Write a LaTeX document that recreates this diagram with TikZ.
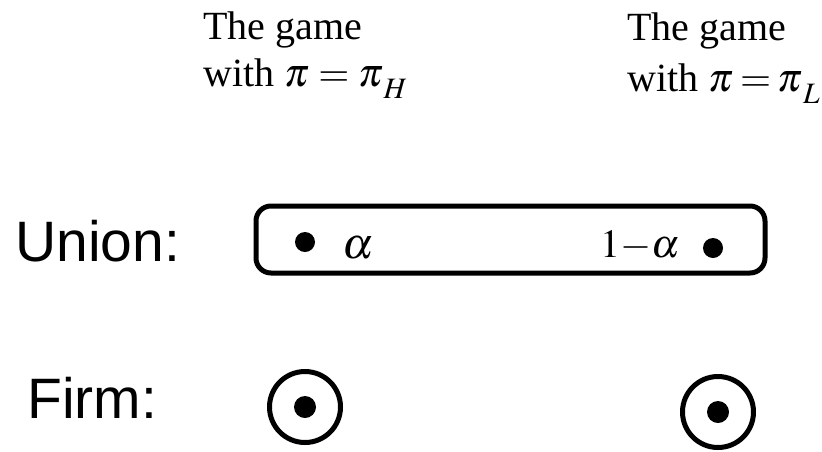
\documentclass[tikz,border=0pt]{standalone}
\usepackage{mathptmx}
\usepackage{fontspec}
\setmainfont{Liberation Serif}
\setsansfont{Liberation Sans}
\usepackage{tikz}
\usetikzlibrary{positioning}

\begin{document}
\begin{tikzpicture}[
    x=1pt, y=-1pt,
    heading/.style={
      anchor=north west,
      align=left,
      inner sep=0pt,
      font=\fontsize{40}{47}\selectfont
    },
    player/.style={
      anchor=base west,
      inner sep=0pt,
      font=\sffamily\fontsize{57}{60}\selectfont
    },
    prob/.style={
      inner sep=0pt,
      font=\fontsize{44}{50}\selectfont
    },
    infoset/.style={
      draw,
      line width=5pt,
      rounded corners=15pt
    },
    choice/.style={
      circle,
      fill,
      inner sep=0pt,
      minimum size=20pt
    },
    firmset/.style={
      circle,
      draw,
      line width=5pt,
      inner sep=0pt,
      minimum size=71pt
    }
  ]
    \useasboundingbox (0,0) rectangle (822,451);

    % Headings
    \node (gameH) [heading] at (203,12) {The game\\with $\pi=\pi^{}_{\,H}$};
    \node (gameL) [heading, font=\fontsize{40}{51}\selectfont] at (627,13) {The game\\with $\pi\mskip3mu{=}\mskip3mu\pi^{}_{\,L}$};

    % Players
    \node (union) [player] at (15,261) {Union:};
    \node (firm) [player] at (27,418) {Firm:};

    % Union's information set
    \draw [infoset] (256,206) rectangle (765,273);
    \node (uH) [choice] at (305,242) {};
    \node (uL) [choice] at (713,248) {};
    \node (alphaH) [prob, anchor=base west] at (342,258) {$\alpha$};
    \node (alphaL) [prob, anchor=base east, font=\fontsize{40}{48}\selectfont] at (680,257) {$1{-}\alpha$};

    % Firm's nodes
    \node (fH) [firmset] at (305,407) {};
    \node (fL) [firmset] at (718,412) {};
    \node [choice, minimum size=22pt] at (fH) {};
    \node [choice, minimum size=22pt] at (fL) {};

  \end{tikzpicture}
\end{document}
